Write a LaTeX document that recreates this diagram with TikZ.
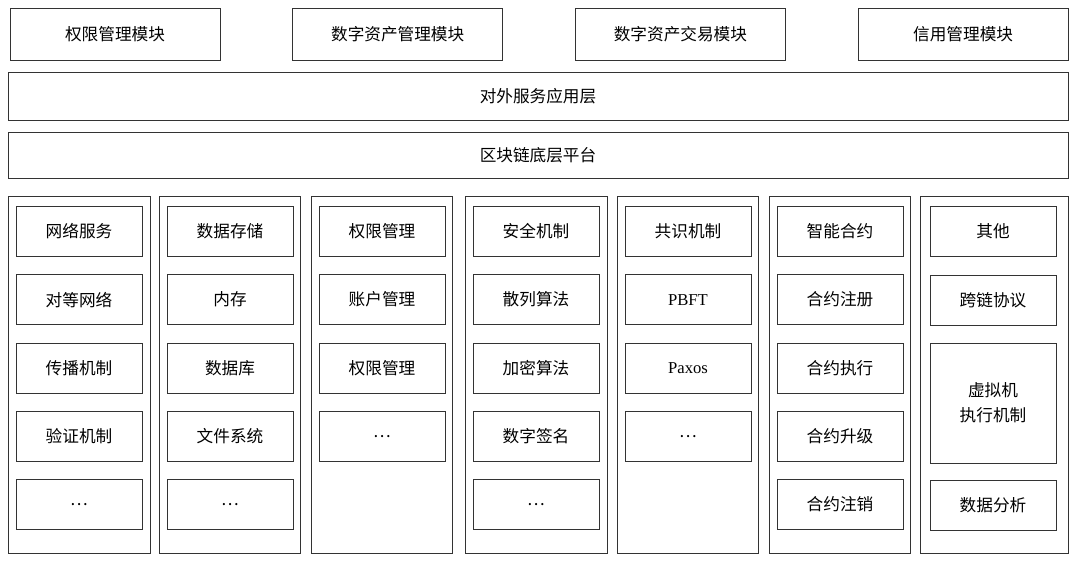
\documentclass[tikz,border=0pt]{standalone}
\usepackage{fontspec}
\newfontfamily\cjk{Noto Sans CJK SC}
\setmainfont{Liberation Serif}
\begin{document}
\begin{tikzpicture}[x=0.0264cm, y=-0.0264cm,
    blk/.style={draw=black!80, line width=0.6pt, inner sep=0pt, font=\cjk\fontsize{12.5}{15}\selectfont},
    col/.style={draw=black!80, line width=0.6pt, inner sep=0pt}]
    \useasboundingbox (0,0) rectangle (1080,563);
    % top modules
    \foreach \t [count=\i] in {权限管理模块,数字资产管理模块,数字资产交易模块,信用管理模块}
        \node[blk, minimum width=210*0.0264cm, minimum height=52*0.0264cm] (mod\i) at (115+282.7*\i-282.7,34) {\t};
    % layers
    \node[blk, minimum width=1060*0.0264cm, minimum height=48*0.0264cm] (app) at (538,96) {对外服务应用层};
    \node[blk, minimum width=1060*0.0264cm, minimum height=46*0.0264cm] (chain) at (538,155) {区块链底层平台};
    % columns
    \foreach \x/\w [count=\i] in {8/142,159/141,311/141,465/142,617/141,769/141,920/148}
        \node[col, minimum width=\w*0.0264cm, minimum height=357*0.0264cm] (col\i) at (\x+\w/2,374.5) {};
    \foreach \x/\list [count=\i] in {
        8/{网络服务,对等网络,传播机制,验证机制,…},
        159/{数据存储,内存,数据库,文件系统,…},
        311/{权限管理,账户管理,权限管理,…},
        465/{安全机制,散列算法,加密算法,数字签名,…},
        617/{共识机制,{\rmfamily PBFT},{\rmfamily Paxos},…},
        769/{智能合约,合约注册,合约执行,合约升级,合约注销}}
        \foreach \t [count=\j] in \list
            \node[blk, minimum width=126*0.0264cm, minimum height=50*0.0264cm] (c\i r\j) at (\x+71,163+68.3*\j) {\t};
    % last column
    \node[blk, minimum width=126*0.0264cm, minimum height=50*0.0264cm] (c7r1) at (993,231) {其他};
    \node[blk, minimum width=126*0.0264cm, minimum height=50*0.0264cm] (c7r2) at (993,300) {跨链协议};
    \node[blk, minimum width=126*0.0264cm, minimum height=120*0.0264cm, align=center] (c7r3) at (993,403) {虚拟机\\[4pt]执行机制};
    \node[blk, minimum width=126*0.0264cm, minimum height=50*0.0264cm] (c7r4) at (993,505) {数据分析};
\end{tikzpicture}
\end{document}
